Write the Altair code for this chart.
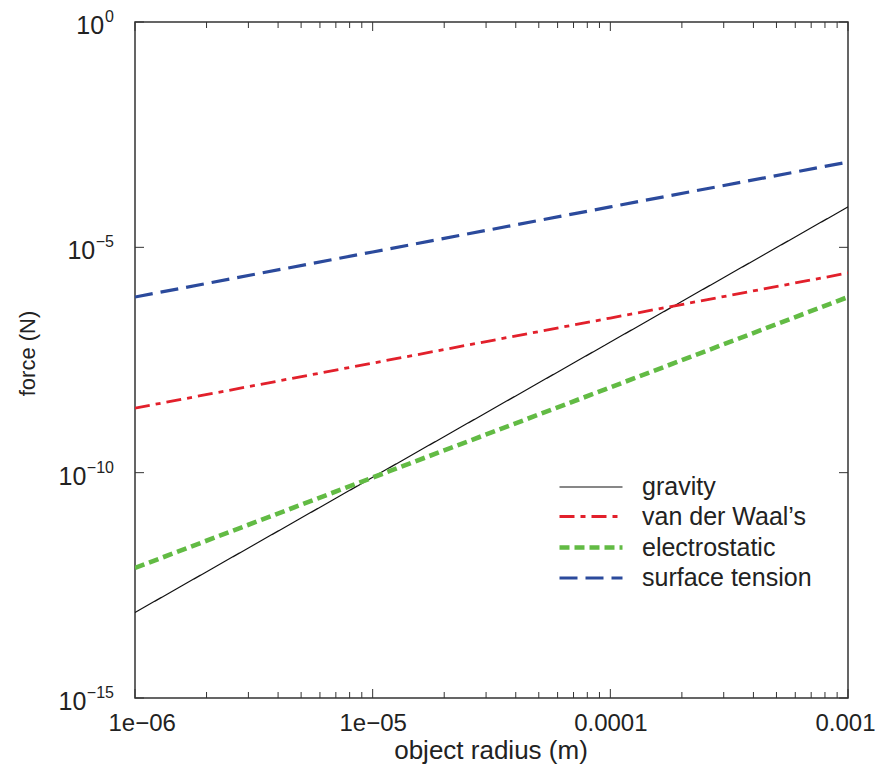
import altair as alt
import pandas as pd

# ---- data ----
radius = [1e-6, 1e-5, 1e-4, 1e-3]
series_names = ["gravity", "van der Waal\u2019s", "electrostatic", "surface tension"]
gravity = [7.9e-14, 7.9e-11, 7.9e-8, 7.9e-5]
van_der_waals = [2.7e-9, 2.7e-8, 2.7e-7, 2.7e-6]
electrostatic = [7.7e-13, 7.8e-11, 7.8e-9, 7.9e-7]
surface_tension = [7.9e-7, 7.9e-6, 7.9e-5, 7.8e-4]

series_colors = ["#111111", "#e2202b", "#62bb44", "#2b4a9c"]
series_dash = [[1, 0], [15, 6, 5, 6], [10, 5], [18, 8]]
series_width = [1.2, 2.8, 4.6, 3.2]

x_major = [1e-6, 1e-5, 1e-4, 1e-3]
x_labels = ["1e\u221206", "1e\u221205", "0.0001", "0.001"]
x_minor = [m * d for d in [1e-6, 1e-5, 1e-4] for m in range(2, 10)]
y_major = [1e-15, 1e-10, 1e-5, 1e0]
y_label_base = ["10", "10", "10", "10"]
y_label_exp = ["\u221215", "\u221210", "\u22125", "0"]

# ---- tables ----
rows = []
for name, vals in zip(series_names, [gravity, van_der_waals, electrostatic, surface_tension]):
    for r, v in zip(radius, vals):
        rows.append({"radius": r, "force": v, "series": name})
df = pd.DataFrame(rows)
xmaj = pd.DataFrame({"v": x_major})
xmin = pd.DataFrame({"v": x_minor})
ymaj = pd.DataFrame({"v": y_major})
ylab = pd.DataFrame({"v": y_major, "base": y_label_base, "exp": y_label_exp})

W, H = 713, 676
FONT = "Liberation Sans"
TXT = "#222"

xscale = alt.Scale(type="log", domain=[1e-6, 1e-3], nice=False)
yscale = alt.Scale(type="log", domain=[1e-15, 1], nice=False)

x_label_expr = "[" + ",".join("'%s'" % s for s in x_labels) + "][round(log(datum.value)/LN10 + 6)]"

x_axis = alt.Axis(values=x_major, labelExpr=x_label_expr, title="object radius (m)",
                  ticks=False, tickSize=0, domain=False, grid=False,
                  labelFont=FONT, labelFontSize=24, labelColor=TXT, labelPadding=13,
                  labelFlush=True, labelFlushOffset=27, labelOverlap=False,
                  titleFont=FONT, titleFontSize=26, titleFontWeight="normal", titleColor=TXT,
                  titleX=355.5, titleY=60, titleBaseline="alphabetic", titleAlign="center")
y_axis = alt.Axis(values=y_major, labels=False, title="force (N)",
                  ticks=False, tickSize=0, domain=False, grid=False,
                  titleFont=FONT, titleFontSize=22, titleFontWeight="normal", titleColor=TXT,
                  titleX=-108, titleY=331, titleAngle=270, titleAlign="center",
                  titleBaseline="middle")

lines = alt.Chart(df).mark_line(clip=True).encode(
    x=alt.X("radius:Q", scale=xscale, axis=x_axis),
    y=alt.Y("force:Q", scale=yscale, axis=y_axis),
    color=alt.Color("series:N", scale=alt.Scale(domain=series_names, range=series_colors),
                    sort=series_names, title=None),
    strokeDash=alt.StrokeDash("series:N", scale=alt.Scale(domain=series_names, range=series_dash),
                              sort=series_names, title=None),
    strokeWidth=alt.StrokeWidth("series:N", scale=alt.Scale(type="ordinal", domain=series_names,
                                                            range=series_width),
                                sort=series_names, title=None),
    detail="series:N",
)

tick_color = "#333"
def xticks(data, length):
    bottom = alt.Chart(data).mark_rule(color=tick_color, strokeWidth=1).encode(
        x=alt.X("v:Q", scale=xscale), y=alt.value(H), y2=alt.value(H - length))
    top = alt.Chart(data).mark_rule(color=tick_color, strokeWidth=1).encode(
        x=alt.X("v:Q", scale=xscale), y=alt.value(0), y2=alt.value(length))
    return [bottom, top]

def yticks(data, length):
    left = alt.Chart(data).mark_rule(color=tick_color, strokeWidth=1).encode(
        y=alt.Y("v:Q", scale=yscale), x=alt.value(0), x2=alt.value(length))
    right = alt.Chart(data).mark_rule(color=tick_color, strokeWidth=1).encode(
        y=alt.Y("v:Q", scale=yscale), x=alt.value(W), x2=alt.value(W - length))
    return [left, right]

# y tick labels: "10" plus a raised, smaller exponent (right-aligned together)
EXP_RIGHT = -21
exp_text = alt.Chart(ylab).mark_text(
    align="right", baseline="alphabetic", dy=0, fontSize=16, font=FONT, color=TXT
).encode(
    y=alt.Y("v:Q", scale=yscale),
    x=alt.value(EXP_RIGHT),
    text="exp:N",
)
base_text = alt.Chart(ylab).transform_calculate(
    xpix="%d - length(datum.exp) * 8.9 - 1" % EXP_RIGHT
).mark_text(
    align="right", baseline="alphabetic", dy=12, fontSize=25, font=FONT, color=TXT
).encode(
    y=alt.Y("v:Q", scale=yscale),
    x=alt.X("xpix:Q", scale=None, axis=None),
    text="base:N",
)

layers = xticks(xmaj, 9) + xticks(xmin, 6) + yticks(ymaj, 9) + [lines, exp_text, base_text]

chart = alt.layer(*layers).properties(
    width=W, height=H,
    autosize=alt.AutoSizeParams(type="none"),
    padding={"left": 127, "top": 14, "right": 27, "bottom": 66},
    background="white",
).configure_view(
    stroke="#333", strokeWidth=1.5
).configure_legend(
    orient="none", legendX=438.5, legendY=449, padding=0,
    symbolType="M-2.1,0H2.1", symbolSize=900, symbolFillColor="transparent",
    labelFont=FONT, labelFontSize=25, labelColor=TXT, labelOffset=33.5,
    rowPadding=0, labelLimit=400,
)

chart.save("out.html", embed_options={"renderer": "svg", "actions": False})
